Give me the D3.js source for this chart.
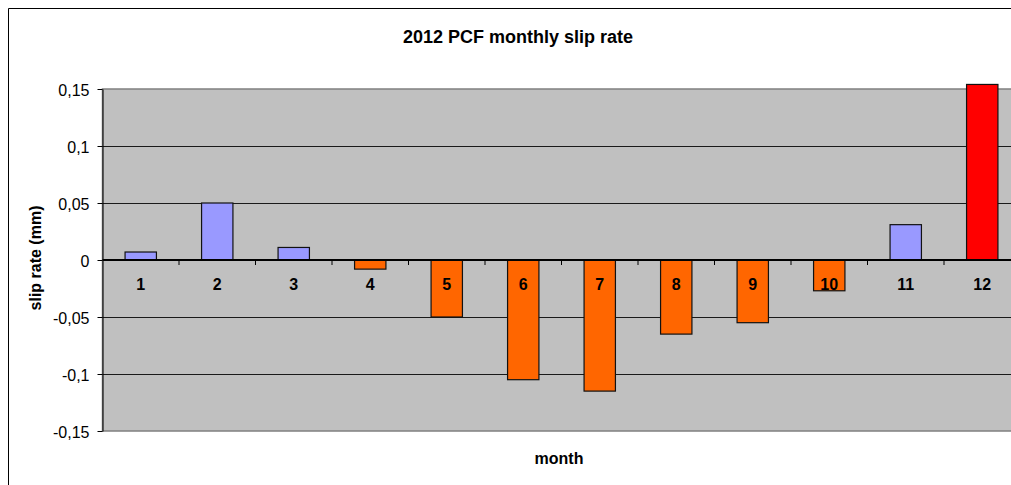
<!DOCTYPE html>
<html><head><meta charset="utf-8">
<script src="https://cdn.jsdelivr.net/npm/d3@7"></script>
<style>
html,body{margin:0;padding:0;background:#fff;overflow:hidden;}
svg{display:block;font-family:"Liberation Sans",Arial,sans-serif;}
</style></head>
<body>
<svg id="chart" width="1011" height="485"></svg>
<script>
const months = ["1","2","3","4","5","6","7","8","9","10","11","12"];
const slipRate = [0.007, 0.050, 0.011, -0.008, -0.050, -0.105, -0.115, -0.065, -0.055, -0.027, 0.031, 0.154];
const yTicks = [-0.15, -0.1, -0.05, 0, 0.05, 0.1, 0.15];
const yTickLabels = ["-0,15", "-0,1", "-0,05", "0", "0,05", "0,1", "0,15"];
const highlightMonth = "12";

(function () {
const svg = d3.select("#chart");
const W = 1011, H = 485;
const pLeft = 102.5, pRight = 1020.5, pTop = 89, pBottom = 431;

// outer chart border (only left and top edges are inside the window)
svg.append("path").attr("d", `M8.5,${H + 5}V8.5H${W + 5}`)
  .attr("fill", "none").attr("stroke", "#000").attr("stroke-width", 1);

const x = d3.scaleBand().domain(months).range([pLeft, pRight]).padding(0);
const y = d3.scaleLinear().domain([-0.15, 0.15]).range([pBottom, pTop]);

// plot area
svg.append("rect").attr("x", pLeft).attr("y", pTop).attr("width", pRight - pLeft).attr("height", pBottom - pTop)
  .attr("fill", "#c0c0c0").attr("stroke", "#808080").attr("stroke-width", 1.5);

// gridlines
svg.append("g").selectAll("line").data(yTicks.filter(v => Math.abs(v) < 0.15 && v !== 0)).join("line")
  .attr("x1", pLeft).attr("x2", pRight)
  .attr("y1", d => Math.round(y(d)) + 0.5).attr("y2", d => Math.round(y(d)) + 0.5)
  .attr("stroke", "#1a1a1a").attr("stroke-width", 1);

// y axis
const yAxis = d3.axisLeft(y).tickValues(yTicks)
  .tickFormat((d, i) => yTickLabels[i]).tickSize(5).tickSizeOuter(0).tickPadding(8);
const gy = svg.append("g").attr("transform", `translate(${pLeft},0)`).call(yAxis);
gy.select(".domain").attr("stroke", "#000").attr("stroke-width", 1);
gy.selectAll(".tick line").attr("stroke", "#000");
gy.selectAll("text").attr("font-size", 16).attr("fill", "#000").attr("dy", "0.4em")
  .attr("font-family", "Liberation Sans, Arial, sans-serif");

// bars
const barW = x.bandwidth() * 0.41;
svg.append("g").selectAll("rect").data(months).join("rect")
  .attr("x", d => x(d) + (x.bandwidth() - barW) / 2)
  .attr("width", barW)
  .attr("y", (d, i) => y(Math.max(0, slipRate[i])))
  .attr("height", (d, i) => Math.abs(y(slipRate[i]) - y(0)))
  .attr("fill", (d, i) => d === highlightMonth ? "#ff0000" : (slipRate[i] >= 0 ? "#9999ff" : "#ff6600"))
  .attr("stroke", "#111").attr("stroke-width", 1.2);

// x axis at zero
const gx = svg.append("g").attr("transform", `translate(0,${y(0)})`);
gx.append("line").attr("x1", pLeft).attr("x2", pRight).attr("y1", 0).attr("y2", 0)
  .attr("stroke", "#000").attr("stroke-width", 2);
gx.selectAll("line.tk").data(months.slice(1)).join("line").attr("class", "tk")
  .attr("x1", d => x(d)).attr("x2", d => x(d)).attr("y1", 0).attr("y2", 5)
  .attr("stroke", "#000").attr("stroke-width", 1);
gx.selectAll("text").data(months).join("text")
  .attr("x", d => x(d) + x.bandwidth() / 2).attr("y", 30)
  .attr("text-anchor", "middle").attr("font-size", 16).attr("font-weight", "bold")
  .attr("fill", "#000").text(d => d);

// titles
svg.append("text").attr("x", 518).attr("y", 43).attr("text-anchor", "middle")
  .attr("font-size", 18).attr("font-weight", "bold").text("2012 PCF monthly slip rate");
svg.append("text").attr("x", 559).attr("y", 464).attr("text-anchor", "middle")
  .attr("font-size", 16).attr("font-weight", "bold").text("month");
svg.append("text").attr("transform", "translate(41,258) rotate(-90)").attr("text-anchor", "middle")
  .attr("font-size", 16).attr("font-weight", "bold").text("slip rate (mm)");
})();
</script>
</body></html>
